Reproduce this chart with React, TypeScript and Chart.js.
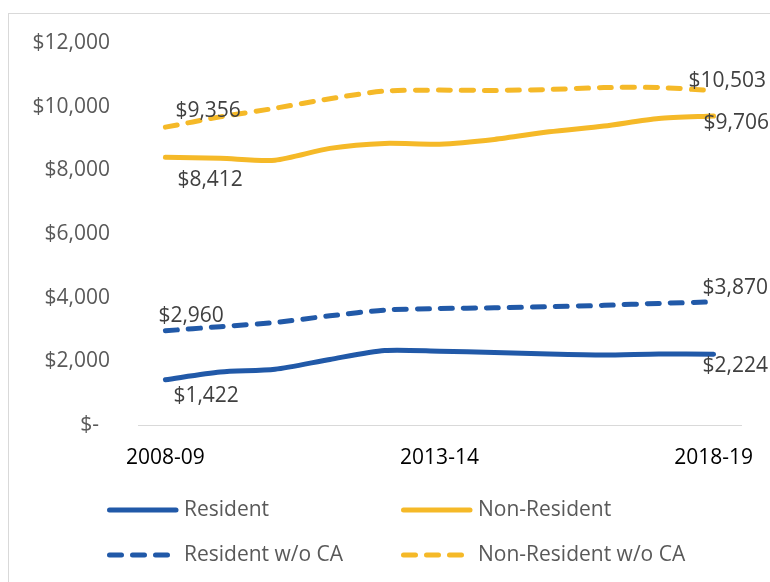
import React, { useEffect, useRef } from 'react';
import { Chart, registerables } from 'chart.js';

Chart.register(...registerables);

const FONT = "'Open Sans', 'Noto Sans', sans-serif";

const years = ['2008-09', '2009-10', '2010-11', '2011-12', '2012-13', '2013-14', '2014-15', '2015-16', '2016-17', '2017-18', '2018-19'];
const shownYears = ['2008-09', '2013-14', '2018-19'];

const seriesNames = ['Resident', 'Non-Resident', 'Resident w/o CA', 'Non-Resident w/o CA'];
const resident = [1422, 1665, 1750, 2060, 2340, 2320, 2280, 2230, 2200, 2230, 2224];
const nonResident = [8412, 8380, 8320, 8690, 8845, 8820, 8970, 9210, 9390, 9630, 9706];
const residentNoCA = [2960, 3090, 3220, 3430, 3610, 3660, 3680, 3715, 3760, 3820, 3870];
const nonResidentNoCA = [9356, 9680, 9950, 10250, 10490, 10520, 10510, 10540, 10600, 10600, 10503];

const yMin = 0;
const yMax = 12000;
const yStep = 2000;

const BLUE = '#2159a8';
const GOLD = '#f5b928';

const CANVAS_W = 761;
const CANVAS_H = 568;

const fmt = (v: number) => '$' + Number(v).toLocaleString('en-US');

// label offsets [first point, last point] relative to the point (dx, dy)
const labelOffsets = [
  [[8, 16], [-11, 12]],
  [[12, 23], [-10, 7]],
  [[-7, -15], [-11, -14]],
  [[10, -16], [-25, -10]],
];

const endLabelsPlugin = {
  id: 'endLabels',
  afterDatasetsDraw(chart: any) {
    const ctx = chart.ctx;
    ctx.save();
    ctx.font = `21px ${FONT}`;
    ctx.fillStyle = '#404040';
    ctx.textAlign = 'left';
    ctx.textBaseline = 'middle';
    chart.data.datasets.forEach((ds: any, i: number) => {
      const meta = chart.getDatasetMeta(i);
      const idxs = [0, ds.data.length - 1];
      idxs.forEach((idx, k) => {
        const pt = meta.data[idx];
        const off = labelOffsets[i][k];
        ctx.fillText(fmt(ds.data[idx]), pt.x + off[0], pt.y + off[1]);
      });
    });
    ctx.restore();
  },
};

// legend grid: 2 columns x 2 rows
const legendCols = [98, 392];
const legendRows = [496, 541];

const gridLegendPlugin = {
  id: 'gridLegend',
  afterDraw(chart: any) {
    const ctx = chart.ctx;
    ctx.save();
    chart.data.datasets.forEach((ds: any, i: number) => {
      const x = legendCols[i % 2];
      const y = legendRows[Math.floor(i / 2)];
      ctx.beginPath();
      ctx.strokeStyle = ds.borderColor;
      ctx.lineWidth = 5;
      ctx.lineCap = 'round';
      ctx.setLineDash(ds.borderDash || []);
      ctx.moveTo(x + 2.5, y);
      ctx.lineTo(x + 69, y);
      ctx.stroke();
      ctx.setLineDash([]);
      ctx.font = `21px ${FONT}`;
      ctx.fillStyle = '#595959';
      ctx.textAlign = 'left';
      ctx.textBaseline = 'middle';
      ctx.fillText(ds.label, x + 77, y);
    });
    ctx.restore();
  },
};

export default function App() {
  const ref = useRef<HTMLCanvasElement>(null);

  useEffect(() => {
    if (!ref.current) return;
    const common = {
      borderWidth: 5,
      pointRadius: 0,
      pointHoverRadius: 0,
      tension: 0.25,
      borderCapStyle: 'round',
      borderJoinStyle: 'round',
      fill: false,
    };
    const chart = new Chart(ref.current, {
      type: 'line',
      data: {
        labels: years,
        datasets: [
          { ...common, label: seriesNames[0], data: resident, borderColor: BLUE, backgroundColor: BLUE },
          { ...common, label: seriesNames[1], data: nonResident, borderColor: GOLD, backgroundColor: GOLD },
          { ...common, label: seriesNames[2], data: residentNoCA, borderColor: BLUE, backgroundColor: BLUE, borderDash: [12, 11] },
          { ...common, label: seriesNames[3], data: nonResidentNoCA, borderColor: GOLD, backgroundColor: GOLD, borderDash: [12, 11] },
        ],
      } as any,
      options: {
        animation: false,
        responsive: false,
        maintainAspectRatio: false,
        layout: { padding: { top: 29, right: 29, left: 0, bottom: 0 } },
        plugins: {
          legend: { display: false },
          tooltip: { enabled: false },
        },
        scales: {
          x: {
            offset: true,
            grid: { display: false, drawTicks: false },
            border: { display: true, color: '#d9d9d9', width: 1 },
            ticks: {
              autoSkip: false,
              maxRotation: 0,
              minRotation: 0,
              padding: 20,
              color: '#000000',
              font: { family: FONT, size: 21 },
              callback: (_v: any, i: number) => (shownYears.includes(years[i]) ? years[i] : ''),
            },
            afterFit: (scale: any) => {
              scale.height = CANVAS_H - 411;
              scale.paddingLeft = 0;
              scale.paddingRight = 0;
            },
          },
          y: {
            min: yMin,
            max: yMax,
            grid: { display: false, drawTicks: false },
            border: { display: false },
            ticks: {
              stepSize: yStep,
              padding: 28,
              color: '#595959',
              font: { family: FONT, size: 21 },
              callback: (v: any) => (Number(v) === 0 ? '$-  ' : fmt(Number(v))),
            },
            afterFit: (scale: any) => {
              scale.width = 129;
              scale.paddingTop = 0;
              scale.paddingBottom = 0;
            },
          },
        },
      } as any,
      plugins: [endLabelsPlugin, gridLegendPlugin],
    });
    return () => chart.destroy();
  }, []);

  return (
    <div
      style={{
        width: 770,
        height: 582,
        overflow: 'hidden',
        paddingTop: 13,
        paddingLeft: 8,
        boxSizing: 'border-box',
        background: '#ffffff',
      }}
    >
      <style>{'html,body{margin:0;padding:0;overflow:hidden;}'}</style>
      <div
        style={{
          borderTop: '1px solid #d9d9d9',
          borderLeft: '1px solid #d9d9d9',
          width: CANVAS_W,
          height: CANVAS_H,
        }}
      >
        <canvas
          ref={ref}
          width={CANVAS_W}
          height={CANVAS_H}
          style={{ display: 'block', width: CANVAS_W, height: CANVAS_H }}
        />
      </div>
    </div>
  );
}
